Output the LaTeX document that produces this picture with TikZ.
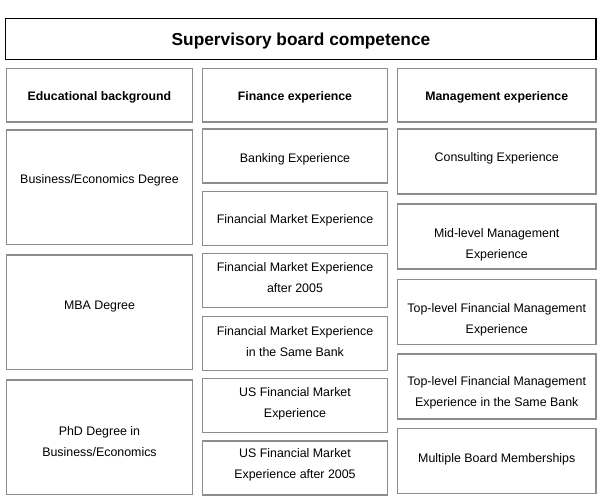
\documentclass[tikz,border=0pt]{standalone}
\usepackage{fontspec}
\setmainfont{Liberation Sans}
\definecolor{cellgray}{RGB}{140,140,140}

\begin{document}
\begin{tikzpicture}[x=1pt,y=-1pt,
  cell/.style={draw=cellgray, line width=1.3pt, rectangle, inner sep=0pt},
  txt/.style={font=\fontsize{12.4}{21}\selectfont, align=center, inner sep=0pt},
  head/.style={font=\bfseries\fontsize{12.3}{15}\selectfont, inner sep=0pt}]
\useasboundingbox (0,0) rectangle (600,500);
%title
\node[draw=black, line width=1.3pt, rectangle, minimum width=590.5pt, minimum height=41pt] (top) at (300.75,39) {};
\node[inner sep=0pt, font=\bfseries\fontsize{17.3}{20}\selectfont] (toptext) at (301,41) {Supervisory board competence};
%headers
\node[cell, minimum width=186pt, minimum height=53.5pt] (eduhead) at (99.5,95.25) {};
\node[cell, minimum width=185pt, minimum height=53.5pt] (finhead) at (295,95.25) {};
\node[cell, minimum width=198.5pt, minimum height=53.5pt] (manhead) at (496.75,95.25) {};
\node[head] (eduheadtext) at (99.5,97.5) {Educational background};
\node[head] (finheadtext) at (295,97.5) {Finance experience};
\node[head] (manheadtext) at (496.75,97.5) {Management experience};
%educational background
\node[cell, minimum width=186pt, minimum height=114.5pt] (edu1) at (99.5,187.25) {};
\node[cell, minimum width=186pt, minimum height=114.5pt] (edu2) at (99.5,312.25) {};
\node[cell, minimum width=186pt, minimum height=114.5pt] (edu3) at (99.5,437.25) {};
\node[txt] (edu1text) at (99.5,180.5) {Business/Economics Degree};
\node[txt] (edu2text) at (99.5,306.5) {MBA Degree};
\node[txt] (edu3text) at (99.5,441.5) {PhD Degree in\\Business/Economics};
%finance experience
\node[cell, minimum width=185pt, minimum height=54pt] (fin1) at (295,156) {};
\node[cell, minimum width=185pt, minimum height=54pt] (fin2) at (295,218.4) {};
\node[cell, minimum width=185pt, minimum height=54pt] (fin3) at (295,280.8) {};
\node[cell, minimum width=185pt, minimum height=54pt] (fin4) at (295,343.2) {};
\node[cell, minimum width=185pt, minimum height=54pt] (fin5) at (295,405.6) {};
\node[cell, minimum width=185pt, minimum height=54pt] (fin6) at (295,468) {};
\node[txt] (fin1text) at (295,159) {Banking Experience};
\node[txt] (fin2text) at (295,220.5) {Financial Market Experience};
\node[txt] (fin3text) at (295,278) {Financial Market Experience\\after 2005};
\node[txt] (fin4text) at (295,341.5) {Financial Market Experience\\in the Same Bank};
\node[txt] (fin5text) at (295,403.5) {US Financial Market\\Experience};
\node[txt] (fin6text) at (295,465) {US Financial Market\\Experience after 2005};
%management experience
\node[cell, minimum width=198.5pt, minimum height=65pt] (man1) at (496.75,161.5) {};
\node[cell, minimum width=198.5pt, minimum height=65pt] (man2) at (496.75,236.5) {};
\node[cell, minimum width=198.5pt, minimum height=65pt] (man3) at (496.75,312) {};
\node[cell, minimum width=198.5pt, minimum height=65pt] (man4) at (496.75,386.5) {};
\node[cell, minimum width=198.5pt, minimum height=65pt] (man5) at (496.75,461) {};
\node[txt] (man1text) at (496.75,158.5) {Consulting Experience};
\node[txt] (man2text) at (496.75,244.5) {Mid-level Management\\Experience};
\node[txt] (man3text) at (496.75,319.5) {Top-level Financial Management\\Experience};
\node[txt] (man4text) at (496.75,393) {Top-level Financial Management\\Experience in the Same Bank};
\node[txt] (man5text) at (496.75,459) {Multiple Board Memberships};
\end{tikzpicture}
\end{document}
